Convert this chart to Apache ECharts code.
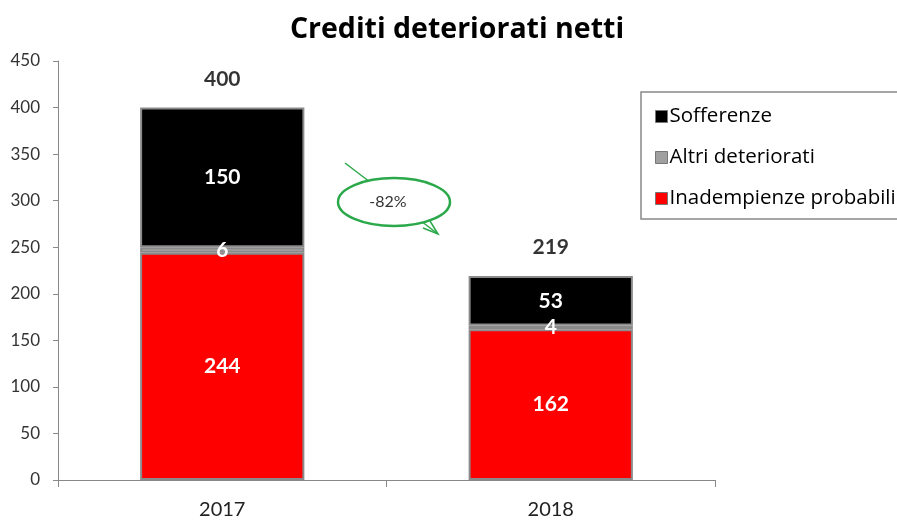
<!DOCTYPE html>
<html>
<head>
<meta charset="utf-8">
<script src="https://cdn.jsdelivr.net/npm/echarts@6/dist/echarts.min.js"></script>
<style>html,body{margin:0;padding:0;background:#fff}#c{width:897px;height:520px}</style>
</head>
<body>
<div id="c"></div>
<script>
const categories = ['2017', '2018'];
const inadempienze = [244, 162];
const altri = [6, 4];
const sofferenze = [150, 53];
const totals = [400, 219];
const yTicks = { min: 0, max: 450, interval: 50 };
const changeLabel = '-82%';

const FONT = 'Lato';
const border = { borderColor: '#8a8a8a', borderWidth: 2 };
const inLabel = { show: true, color: '#fff', fontWeight: 'bold', fontSize: 21, fontFamily: FONT };

const chart = echarts.init(document.getElementById('c'));
chart.setOption({
  animation: false,
  title: {
    text: 'Crediti deteriorati netti', left: 452, top: 10, textAlign: 'center',
    textStyle: { fontFamily: 'Open Sans', fontWeight: 'bold', fontSize: 28.5, color: '#000' }
  },
  grid: { left: 58, right: 182, top: 61, bottom: 38, containLabel: false },
  legend: {
    orient: 'vertical', left: 641, top: 92, width: 290,
    padding: [14, 40, 10, 14], itemGap: 20, itemWidth: 12, itemHeight: 12,
    borderColor: '#888', borderWidth: 1.5,
    icon: 'rect',
    data: ['Sofferenze', 'Altri deteriorati', 'Inadempienze probabili'],
    textStyle: { fontFamily: 'Open Sans', fontSize: 20.5, color: '#000', padding: [0, 0, 0, -3] },
    itemStyle: { borderColor: '#777', borderWidth: 1 }
  },
  xAxis: {
    type: 'category', data: categories, boundaryGap: true,
    axisLine: { lineStyle: { color: '#888', width: 1 } },
    axisTick: { show: true, alignWithLabel: false, length: 7, lineStyle: { color: '#888' } },
    axisLabel: { fontFamily: FONT, fontSize: 20, color: '#222', margin: 20 }
  },
  yAxis: {
    type: 'value', min: yTicks.min, max: yTicks.max, interval: yTicks.interval,
    splitLine: { show: false },
    axisLine: { show: true, lineStyle: { color: '#888', width: 1 } },
    axisTick: { show: true, length: 5, lineStyle: { color: '#888' } },
    axisLabel: { fontFamily: FONT, fontSize: 17, color: '#333', margin: 18 }
  },
  series: [
    { name: 'Inadempienze probabili', type: 'bar', stack: 't', barWidth: '50%', data: inadempienze,
      itemStyle: Object.assign({ color: '#ff0000' }, border), label: Object.assign({ position: 'inside' }, inLabel) },
    { name: 'Altri deteriorati', type: 'bar', stack: 't', data: altri,
      itemStyle: Object.assign({ color: '#a0a0a0' }, border), label: Object.assign({ position: 'inside' }, inLabel) },
    { name: 'Sofferenze', type: 'bar', stack: 't', data: sofferenze,
      itemStyle: Object.assign({ color: '#000000' }, border), label: Object.assign({ position: 'inside' }, inLabel) },
    { name: 'Totale', type: 'scatter', data: totals, symbolSize: 0, z: 5,
      label: { show: true, position: 'top', distance: 18, color: '#000', fontWeight: 'bold', fontSize: 21, fontFamily: FONT },
      tooltip: { show: false } }
  ],
  graphic: [
    { type: 'line', shape: { x1: 345, y1: 163, x2: 438, y2: 234 }, style: { stroke: '#2aa84a', lineWidth: 1.5 }, z: 10 },
    { type: 'polyline', shape: { points: [[423, 228], [438, 234], [430, 221]] }, style: { stroke: '#2aa84a', lineWidth: 1.5, fill: null }, z: 10 },
    { type: 'ellipse', shape: { cx: 394, cy: 202, rx: 56, ry: 24 }, style: { fill: '#fff', stroke: '#2aa84a', lineWidth: 2.5 }, z: 11 },
    { type: 'text', x: 388, y: 202, style: { text: changeLabel, font: '16px ' + FONT, fill: '#333', align: 'center', verticalAlign: 'middle' }, z: 12 }
  ]
});
</script>
</body>
</html>
